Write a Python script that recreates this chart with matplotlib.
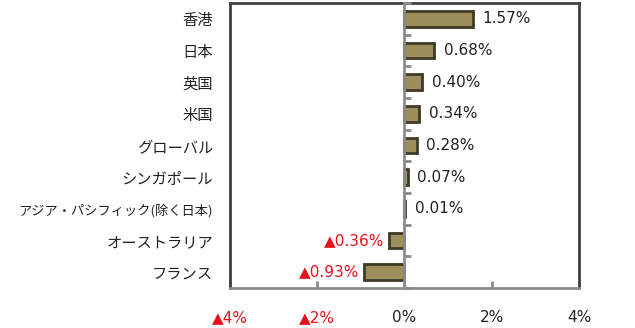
import matplotlib
matplotlib.use("Agg")
import matplotlib.pyplot as plt
import numpy as np

plt.rcParams['font.family'] = ['Noto Sans CJK JP', 'DejaVu Sans']

categories = ["香港", "日本", "英国", "米国", "グローバル", "シンガポール",
              "アジア・パシフィック(除く日本)", "オーストラリア", "フランス"]
values = [1.57, 0.68, 0.40, 0.34, 0.28, 0.07, 0.01, -0.36, -0.93]
xticks = [-4, -2, 0, 2, 4]
xtick_labels = ["▲4%", "▲2%", "0%", "2%", "4%"]

RED = "#E8101A"
BAR = "#9C8F5C"
EDGE = "#3E3A26"
DARK = "#404040"
GRAY = "#8C8C8C"
NUMFONT = ['DejaVu Sans']

fig = plt.figure(figsize=(6.35, 3.28), dpi=100)
ax = fig.add_axes([0.362, 0.122, 0.550, 0.869])

y = np.arange(len(categories))
ax.barh(y, values, height=0.5, color=BAR, edgecolor=EDGE, linewidth=2, zorder=2)

ax.set_xlim(-4, 4)
ax.set_ylim(len(categories) - 0.5, -0.5)

for yi, v in zip(y, values):
    if v >= 0:
        ax.annotate(f"{v:.2f}%", (v, yi), xytext=(7, 0), textcoords="offset points",
                    ha="left", va="center", fontsize=11, color="#222222", family=NUMFONT)
    else:
        ax.annotate(f"▲{abs(v):.2f}%", (v, yi), xytext=(-3, 0), textcoords="offset points",
                    ha="right", va="center", fontsize=11, color=RED, family=NUMFONT)

# frame
for s in ["top", "right", "left"]:
    ax.spines[s].set_color(DARK)
    ax.spines[s].set_linewidth(2)
ax.spines["bottom"].set_color(GRAY)
ax.spines["bottom"].set_linewidth(2)

# category labels
ax.set_yticks(y)
ax.set_yticklabels(categories, fontsize=11, color="#222222")
ax.tick_params(axis="y", length=0, pad=12)
for lbl in ax.get_yticklabels():
    if len(lbl.get_text()) > 10:
        lbl.set_fontsize(9.5)

# x ticks
ax.set_xticks(xticks)
ax.set_xticklabels(xtick_labels, fontsize=11, family=NUMFONT)
ax.tick_params(axis="x", direction="in", length=5, width=2, color=GRAY, pad=16)
for lbl, t in zip(ax.get_xticklabels(), xticks):
    lbl.set_color(RED if t < 0 else "#222222")

# zero axis line with category separator ticks
sec = ax.secondary_yaxis(0.5)
for s in sec.spines.values():
    s.set_color(GRAY)
    s.set_linewidth(2)
sec.set_yticks(np.arange(len(categories) + 1) - 0.5)
sec.set_yticklabels([])
sec.tick_params(axis="y", direction="out", length=5, width=2, color=GRAY)
sec.set_zorder(3)

fig.savefig("out.png", dpi=100)
